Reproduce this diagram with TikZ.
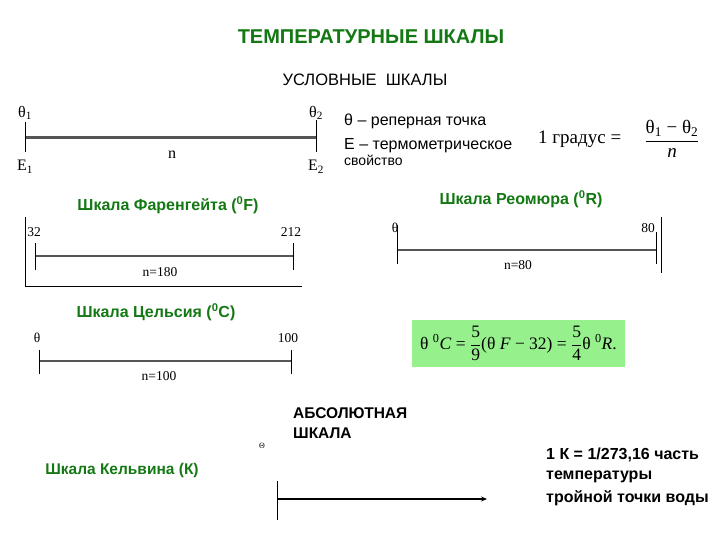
\documentclass[tikz,border=0pt]{standalone}
\usepackage{fontspec}
\setmainfont{Liberation Sans}
\newfontfamily\serif{Liberation Serif}
\usetikzlibrary{arrows.meta}
\definecolor{titlegreen}{RGB}{20,120,20}
\definecolor{boxgreen}{RGB}{150,240,140}
\definecolor{scalegray}{RGB}{85,85,85}
\begin{document}
\begin{tikzpicture}[x=1pt,y=-1pt,
  tick/.style={black,line width=1pt},
  scaleline/.style={scalegray,line width=2pt},
  num/.style={font=\serif\fontsize{13.5}{13.5}\selectfont,inner sep=0pt},
  biglab/.style={font=\serif\fontsize{16}{16}\selectfont,inner sep=0pt},
  gtitle/.style={font=\bfseries\fontsize{16}{16}\selectfont,text=titlegreen,inner sep=0pt},
  plain/.style={font=\fontsize{16}{16}\selectfont,inner sep=0pt},
  boldtext/.style={font=\bfseries\fontsize{16}{16}\selectfont,inner sep=0pt,anchor=west}]
\useasboundingbox (0,0) rectangle (720,540);
\fill[white] (0,0) rectangle (720,540);

% titles
\node[font=\bfseries\fontsize{20}{20}\selectfont,text=titlegreen,inner sep=0pt] (title) at (371,37) {ТЕМПЕРАТУРНЫЕ ШКАЛЫ};
\node[font=\fontsize{16.5}{16.5}\selectfont,inner sep=0pt] (cond) at (365,80) {УСЛОВНЫЕ\ \ ШКАЛЫ};

% conventional scale
\coordinate (c1t) at (25,122); \coordinate (c1b) at (25,152); \coordinate (c1m) at (25,138);
\coordinate (c2t) at (316,120); \coordinate (c2b) at (316,152); \coordinate (c2m) at (316,138);
\draw[scalegray,line width=3pt] (c1m) -- (c2m);
\draw[tick] (c1t) -- (c1b);
\draw[tick] (c2t) -- (c2b);
\node[biglab] (th1) at (25,113) {θ\textsubscript{1}};
\node[biglab] (th2) at (316,113) {θ\textsubscript{2}};
\node[biglab] (e1) at (25,167) {E\textsubscript{1}};
\node[biglab] (e2) at (316,167) {E\textsubscript{2}};
\node[biglab] (n) at (172,155) {n};

\node[plain,anchor=west] (rep) at (344,121) {θ – реперная точка};
\node[plain,anchor=west] (term) at (344,146) {Е – термометрическое};
\node[plain,anchor=west,font=\fontsize{14}{14}\selectfont] (svo) at (344,160) {свойство};

\node[anchor=west,inner sep=0pt,font=\serif\fontsize{19}{19}\selectfont] (deg) at (538,139) {1 градус =};
\node[inner sep=0pt,font=\serif\fontsize{19}{19}\selectfont] (frac) at (672,139)
  {$\displaystyle\frac{\hbox{θ\textsubscript{1} − θ\textsubscript{2}}}{\hbox{\itshape n}}$};

% Fahrenheit
\node[gtitle] (fl) at (168,205) {Шкала Фаренгейта (\textsuperscript{0}F)};
\coordinate (fb1) at (25,217); \coordinate (fb2) at (25,286); \coordinate (fb3) at (302,286);
\draw[tick] (fb1) -- (fb2) -- (fb3);
\coordinate (f1t) at (35,243); \coordinate (f1b) at (35,270); \coordinate (f1m) at (35,256);
\coordinate (f2t) at (293,243); \coordinate (f2b) at (293,270); \coordinate (f2m) at (293,256);
\draw[scaleline] (f1m) -- (f2m);
\draw[tick] (f1t) -- (f1b);
\draw[tick] (f2t) -- (f2b);
\node[num] (f32) at (34,232) {32};
\node[num] (f212) at (291,232) {212};
\node[num] (fn) at (160,272) {n=180};

% Reaumur
\node[gtitle] (rl) at (521,199) {Шкала Реомюра (\textsuperscript{0}R)};
\coordinate (r1t) at (397,225); \coordinate (r1b) at (397,264); \coordinate (r1m) at (397,250);
\coordinate (r2t) at (656,232); \coordinate (r2b) at (656,264); \coordinate (r2m) at (656,250);
\coordinate (r3t) at (661,217); \coordinate (r3b) at (661,273);
\draw[scaleline] (r1m) -- (r2m);
\draw[tick] (r1t) -- (r1b);
\draw[tick] (r2t) -- (r2b);
\draw[tick] (r3t) -- (r3b);
\node[num] (r0) at (395,228) {θ};
\node[num] (r80) at (648,228) {80};
\node[num] (rn) at (518,265) {n=80};

% Celsius
\node[gtitle] (cl) at (156,312) {Шкала Цельсия (\textsuperscript{0}С)};
\coordinate (s1t) at (39,350); \coordinate (s1b) at (39,374); \coordinate (s1m) at (39,361);
\coordinate (s2t) at (291,350); \coordinate (s2b) at (291,374); \coordinate (s2m) at (291,361);
\draw[scaleline] (s1m) -- (s2m);
\draw[tick] (s1t) -- (s1b);
\draw[tick] (s2t) -- (s2b);
\node[num] (s0) at (37,338) {θ};
\node[num] (s100) at (288,338) {100};
\node[num] (sn) at (159,376) {n=100};

% conversion formula
\node[fill=boxgreen,minimum width=213pt,minimum height=47pt,inner sep=0pt,
  font=\serif\fontsize{17.5}{17.5}\selectfont] (conv) at (518.5,343.5)
  {θ \textsuperscript{0}\textit{C} = $\displaystyle\frac{\hbox{5}}{\hbox{9}}$(θ \textit{F} − 32) = $\displaystyle\frac{\hbox{5}}{\hbox{4}}$θ \textsuperscript{0}\textit{R}.};

% absolute scale
\node[boldtext,font=\bfseries\fontsize{15.5}{15.5}\selectfont] (abs1) at (293,413) {АБСОЛЮТНАЯ};
\node[boldtext,font=\bfseries\fontsize{15.5}{15.5}\selectfont] (abs2) at (293,433) {ШКАЛА};
\node[num,font=\serif\fontsize{8}{8}\selectfont] (bigth) at (262,446) {Θ};
\coordinate (k1t) at (277,481); \coordinate (k1b) at (277,520); \coordinate (k1m) at (277,499);
\coordinate (k2m) at (487,499);
\draw[black,line width=2.5pt,-{Stealth[length=6pt,width=5pt]}] (k1m) -- (k2m);
\draw[tick] (k1t) -- (k1b);
\node[gtitle,font=\bfseries\fontsize{15.5}{15.5}\selectfont] (kl) at (122,470) {Шкала Кельвина (К)};
\node[boldtext] (kt1) at (546,455) {1 К = 1/273,16 часть};
\node[boldtext] (kt2) at (546,477) {температуры};
\node[boldtext] (kt3) at (546,498) {тройной точки воды};
\end{tikzpicture}
\end{document}
